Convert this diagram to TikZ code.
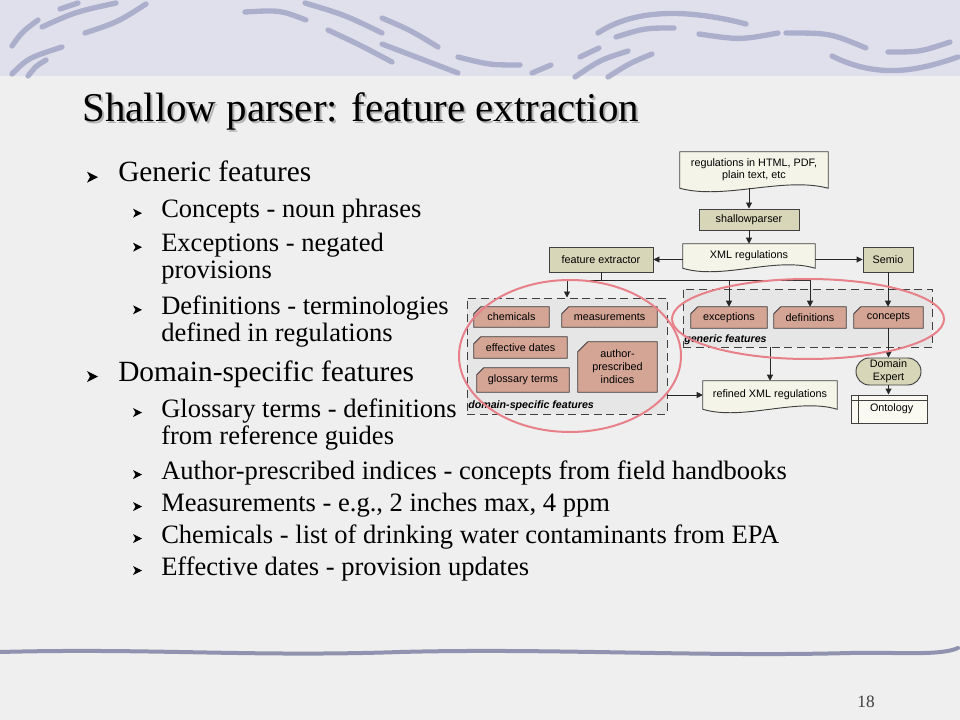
\documentclass[tikz,border=0pt]{standalone}
\usepackage{fontspec}
\setmainfont{Liberation Serif}
\newfontfamily\diagfont{Liberation Sans}
\usetikzlibrary{arrows.meta,calc}
\pgfdeclarelayer{back}
\pgfdeclarelayer{grp}
\pgfdeclarelayer{mid}
\pgfsetlayers{back,grp,mid,main}
\definecolor{bandcol}{HTML}{E0E0EC}
\definecolor{bgcol}{HTML}{EFEFEF}
\definecolor{strokecol}{HTML}{A0A3C4}
\definecolor{doccol}{HTML}{F4F4E8}
\definecolor{procol}{HTML}{D8D6B8}
\definecolor{cardcol}{HTML}{D4A494}
\definecolor{grpcol}{HTML}{E6E6E6}
\definecolor{ringcol}{HTML}{E8808A}
\definecolor{boxline}{HTML}{404040}
\newcommand{\docshape}[1]{%
 \begin{pgfonlayer}{mid}
 \draw[draw=boxline, fill=doccol, line width=0.7pt] (#1.south west) -- (#1.north west) -- (#1.north east) -- (#1.south east)
  .. controls ($(#1.south east)!0.3!(#1.south west)+(0,-12)$) and ($(#1.south east)!0.7!(#1.south west)+(0,12)$) .. (#1.south west) -- cycle;
 \end{pgfonlayer}}
\newcommand{\cardshape}[2]{%
 \begin{pgfonlayer}{mid}
 \draw[draw=boxline, fill=cardcol, line width=0.7pt] (#1.south west) -- ($(#1.north west)+(0,#2)$) -- ($(#1.north west)+(#2,0)$) -- (#1.north east) -- (#1.south east) -- cycle;
 \end{pgfonlayer}}
\newcommand{\bulletA}[1]{\fill[black] (87,{#1-10}) -- (98,{#1-4.5}) -- (87,{#1+1}) -- (90,{#1-4.5}) -- cycle;}
\newcommand{\bulletB}[1]{\fill[black] (133,{#1-9}) -- (142,{#1-4.5}) -- (133,{#1}) -- (135.5,{#1-4.5}) -- cycle;}
\begin{document}
\begin{tikzpicture}[x=0.75pt,y=-0.75pt,
  lvA/.style={anchor=base west, inner sep=0pt, font=\fontsize{22}{26}\selectfont},
  lvB/.style={anchor=base west, inner sep=0pt, font=\fontsize{19.9}{24}\selectfont},
  ttlstyle/.style={anchor=base west, inner sep=0pt, font=\fontsize{30.7}{36}\selectfont},
  dtext/.style={font=\diagfont\fontsize{8.1}{9.6}\selectfont, align=center, inner sep=0pt},
  procbox/.style={dtext, draw=boxline, fill=procol, line width=0.7pt},
  grpbox/.style={draw=boxline, fill=grpcol, dash pattern=on 6pt off 3.5pt, line width=0.7pt, inner sep=0pt},
  grplabel/.style={font=\diagfont\bfseries\itshape\fontsize{8}{9.6}\selectfont, anchor=base west, inner sep=0pt},
  conn/.style={draw=black!85, line width=0.7pt},
  arr/.style={conn, -{Triangle[length=4.5pt,width=4.5pt]}},
  ring/.style={draw=ringcol, line width=1.5pt},
  brush/.style={draw=strokecol, line width=4pt, line cap=round, opacity=0.8},
]
\useasboundingbox (0,0) rectangle (960,720);
\begin{pgfonlayer}{back}
\fill[bgcol] (0,0) rectangle (960,720);
\fill[bandcol] (0,0) rectangle (960,76);
% header brush strokes
\draw[brush] (60,9) -- (78,3);
\draw[brush] (12,46) .. controls (22,32) .. (38,20);
\draw[brush] (42,27) .. controls (75,12) .. (116,3);
\draw[brush] (85,33) .. controls (118,22) .. (146,4);
\draw[brush] (12,74) .. controls (28,58) .. (62,47);
\draw[brush] (28,76) .. controls (36,66) .. (46,60);
\draw[brush] (245,12) .. controls (280,10) .. (306,20);
\draw[brush] (305,3) .. controls (345,15) .. (382,33);
\draw[brush] (328,30) .. controls (360,45) .. (392,62);
\draw[brush] (382,18) .. controls (410,30) .. (438,47);
\draw[brush] (382,44) .. controls (420,58) .. (458,73);
\draw[brush] (458,57) .. controls (490,65) .. (520,65);
\draw[brush] (532,73) -- (551,65);
\draw[brush] (575,77) .. controls (600,60) .. (628,51);
\draw[brush] (580,57) -- (599,48);
\draw[brush] (608,77) .. controls (630,63) .. (652,54);
\draw[brush] (598,33) .. controls (640,5) and (700,12) .. (746,24);
\draw[brush] (616,37) .. controls (645,28) .. (674,28);
\draw[brush] (699,34) .. controls (740,40) .. (778,33);
\draw[brush] (786,33) .. controls (830,33) .. (866,48);
\draw[brush] (832,56) .. controls (880,80) and (920,70) .. (958,57);
\draw[brush] (888,52) .. controls (920,52) .. (950,42);
% footer line
\draw[draw=strokecol!90!black, line width=3pt, line cap=round] (0,652) .. controls (150,648) and (250,657) .. (400,652) .. controls (550,648) and (700,657) .. (850,653) .. controls (900,652) and (940,656) .. (958,648);
\end{pgfonlayer}

% title
\node[ttlstyle, text=black!30] (ttlshadow) at (84,124) {Shallow parser: feature extraction};
\node[ttlstyle] (ttl) at (82,122) {Shallow parser: feature extraction};

% bullet text
\bulletA{181.7}
\node[lvA] (g1) at (118,181.7) {Generic features};
\bulletB{217.7}
\node[lvB] (g2) at (161,217.7) {Concepts - noun phrases};
\bulletB{251.7}
\node[lvB] (g3) at (161,251.7) {Exceptions - negated};
\node[lvB] (g3b) at (161,278.5) {provisions};
\bulletB{314.3}
\node[lvB] (g4) at (161,314.3) {Definitions - terminologies};
\node[lvB] (g4b) at (161,341.7) {defined in regulations};
\bulletA{381}
\node[lvA] (d1) at (118,381) {Domain-specific features};
\bulletB{417}
\node[lvB] (d2) at (161,417) {Glossary terms - definitions};
\node[lvB] (d2b) at (161,444) {from reference guides};
\bulletB{479}
\node[lvB] (d3) at (161,479) {Author-prescribed indices - concepts from field handbooks};
\bulletB{511}
\node[lvB] (d4) at (161,511) {Measurements - e.g., 2 inches max, 4 ppm};
\bulletB{543}
\node[lvB] (d5) at (161,543) {Chemicals - list of drinking water contaminants from EPA};
\bulletB{575}
\node[lvB] (d6) at (161,575) {Effective dates - provision updates};

% page number
\node[anchor=base, inner sep=0pt, font=\fontsize{13}{15}\selectfont, text=black!75] (pg) at (866,707) {18};

% ---- diagram ----
\node[dtext, minimum width=111pt, minimum height=27pt, font=\diagfont\fontsize{8.1}{9.2}\selectfont] (regs) at (754,170) {regulations in HTML, PDF,\\plain text, etc};
\docshape{regs}
\node[procbox, minimum width=75pt, minimum height=15.75pt] (sp) at (749,219.5) {shallowparser};
\node[dtext, minimum width=99pt, minimum height=18pt] (xml) at (749,256) {XML regulations};
\docshape{xml}
\node[procbox, minimum width=78pt, minimum height=18.75pt] (fe) at (601,259.5) {feature extractor};
\node[procbox, minimum width=37.5pt, minimum height=18.75pt] (semio) at (888,259.5) {Semio};

\begin{pgfonlayer}{grp}
\node[grpbox, minimum width=186.75pt, minimum height=43.5pt] (grp) at (807.5,318) {};
\node[grpbox, minimum width=150pt, minimum height=87pt] (dom) at (567,356) {};
\end{pgfonlayer}
\node[grplabel] (grplab) at (684,342) {generic features};
\node[grplabel] (domlab) at (468,408) {domain-specific features};

\node[dtext, minimum width=57pt, minimum height=15.75pt] (exc) at (729,317.5) {exceptions};
\cardshape{exc}{7}
\node[dtext, minimum width=54pt, minimum height=15.75pt] (defs) at (810,317.5) {definitions};
\cardshape{defs}{7}
\node[dtext, minimum width=51.75pt, minimum height=15.75pt] (conc) at (888.5,317.5) {concepts};
\cardshape{conc}{7}

\node[dtext, minimum width=56.25pt, minimum height=15pt] (chem) at (511.5,317) {chemicals};
\cardshape{chem}{7}
\node[dtext, minimum width=71.25pt, minimum height=15pt] (meas) at (609.5,317) {measurements};
\cardshape{meas}{7}
\node[dtext, minimum width=69.75pt, minimum height=15.75pt] (eff) at (520.5,347.5) {effective dates};
\cardshape{eff}{7}
\node[dtext, minimum width=69pt, minimum height=18pt] (glos) at (523,380) {glossary terms};
\cardshape{glos}{7}
\node[dtext, minimum width=59.25pt, minimum height=37.5pt, font=\diagfont\fontsize{8.1}{9.8}\selectfont] (auth) at (617.5,367) {author-\\prescribed\\indices};
\cardshape{auth}{10}

\node[dtext, minimum width=100.5pt, minimum height=21pt] (refined) at (770,395) {refined XML regulations};
\docshape{refined}
\node[procbox, minimum width=48.75pt, minimum height=20.25pt, rounded corners=10pt, font=\diagfont\fontsize{8.1}{9.8}\selectfont] (dexp) at (888.5,371.5) {Domain\\Expert};
\node[dtext, draw=boxline, fill=white!50!doccol, line width=0.7pt, minimum width=57pt, minimum height=21pt] (onto) at (889,409) {\hspace*{4pt}Ontology};
\draw[draw=boxline, line width=0.7pt] ($(onto.north west)+(8,0)$) -- ($(onto.south west)+(8,0)$);
\draw[draw=boxline, line width=0.7pt] ($(onto.north west)+(0,6)$) -- ($(onto.north east)+(0,6)$);

% connectors
\draw[arr] (sp.north |- regs.south) -- (sp.north);
\draw[arr] (sp.south) -- (xml.north);
\draw[arr] (xml.east |- semio.west) -- (semio.west);
\draw[arr] (xml.west |- fe.east) -- (fe.east);
\coordinate (hub) at ($(fe.south)+(0,8)$);
\draw[conn] (fe.south) -- (hub);
\draw[conn] (dom.north |- hub) -- (defs.north |- hub);
\draw[arr] (dom.north |- hub) -- (dom.north);
\draw[arr] (exc.north |- hub) -- (exc.north);
\draw[arr] (defs.north |- hub) -- (defs.north);
\draw[arr] (semio.south) -- (semio.south |- conc.north);
\draw[arr] (conc.south) -- (conc.south |- dexp.north);
\draw[arr] (dexp.south) -- (dexp.south |- onto.north);
\draw[arr] (refined.north |- grp.south) -- (refined.north);
\draw[arr] (dom.east |- refined.west) -- (refined.west);

% highlight rings
\draw[ring] (570,356) ellipse [x radius=83.25pt, y radius=57pt];
\draw[ring] (808,319) ellipse [x radius=102pt, y radius=30pt];
\end{tikzpicture}
\end{document}
